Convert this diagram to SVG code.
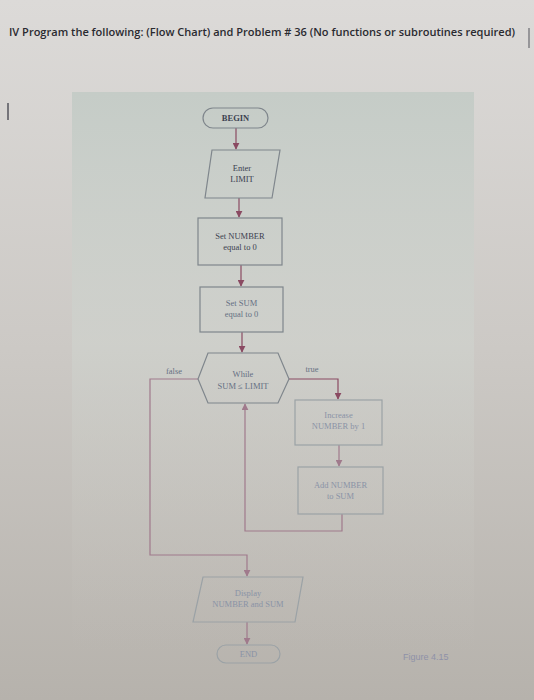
<svg xmlns="http://www.w3.org/2000/svg" width="534" height="700" viewBox="0 0 534 700">
<defs>
<linearGradient id="page" x1="0" y1="0" x2="0" y2="1">
<stop offset="0" stop-color="#dcdad8"/>
<stop offset="0.5" stop-color="#ccc9c5"/>
<stop offset="1" stop-color="#b6b2ac"/>
</linearGradient>
<linearGradient id="panel" x1="0" y1="0" x2="0" y2="1">
<stop offset="0" stop-color="#c5ccc7" stop-opacity="1"/>
<stop offset="0.45" stop-color="#cfd2cd" stop-opacity="0.7"/>
<stop offset="1" stop-color="#c4c1bb" stop-opacity="0"/>
</linearGradient>
<marker id="ah" viewBox="0 0 10 10" refX="9" refY="5" markerWidth="7" markerHeight="7" orient="auto" markerUnits="userSpaceOnUse">
<path d="M0,0 L10,5 L0,10 z" fill="#8a4a62"/>
</marker>
<marker id="ah2" viewBox="0 0 10 10" refX="9" refY="5" markerWidth="7" markerHeight="7" orient="auto" markerUnits="userSpaceOnUse">
<path d="M0,0 L10,5 L0,10 z" fill="#a07a8c"/>
</marker>
</defs>
<style>
.box{fill:none;stroke:#7f868c;stroke-width:1.2}
.boxl{fill:none;stroke:#9ba2a6;stroke-width:1.2}
.t{font-family:"Liberation Serif",serif;font-size:8.5px;text-anchor:middle}
.d{fill:#3c4150}
.m{fill:#667083}
.l{fill:#8a93a6}
.c{fill:none;stroke:#8a4a62;stroke-width:1.2}
.cl{fill:none;stroke:#a07a8c;stroke-width:1.2}
</style>
<rect x="0" y="0" width="534" height="700" fill="url(#page)"/>
<rect x="72" y="92" width="402" height="560" fill="url(#panel)"/>
<line x1="8" y1="103" x2="8" y2="120" stroke="#55555c" stroke-width="1.5"/>
<line x1="529" y1="28" x2="529" y2="48" stroke="#6a6a70" stroke-width="1.2"/>
<text x="9" y="36" font-family="Open Sans, sans-serif" font-size="10.6" font-weight="600" fill="#2a2a30" textLength="506" lengthAdjust="spacingAndGlyphs">IV Program the following: (Flow Chart) and Problem # 36 (No functions or subroutines required)</text>

<g id="connectors">
<path class="c" d="M236,128 V149" marker-end="url(#ah)"/>
<path class="c" d="M239,198 V217" marker-end="url(#ah)"/>
<path class="c" d="M241,265 V286" marker-end="url(#ah)"/>
<path class="c" d="M242,332 V352" marker-end="url(#ah)"/>
<path class="c" d="M289,379 H338 V399" marker-end="url(#ah)"/>
<path class="cl" d="M339,445 V466" marker-end="url(#ah2)"/>
<path class="cl" d="M342,514 V531 H245 V404" marker-end="url(#ah2)"/>
<path class="cl" d="M198,379 H150 V555 H247 V576" marker-end="url(#ah2)"/>
<path class="cl" d="M247,622 V644" marker-end="url(#ah2)"/>
<text x="174" y="374" class="t m" font-size="7.5">false</text>
<text x="312" y="372" class="t m" font-size="7.5">true</text>
</g>

<g id="begin">
<rect x="203" y="108" width="65" height="20" rx="10" class="box"/>
<text x="235.5" y="121" class="t d" font-weight="bold" font-size="8">BEGIN</text>
</g>
<g id="enter">
<polygon points="212,150 280,150 272,198 205,198" class="box"/>
<text x="242" y="171" class="t d">Enter</text>
<text x="242" y="182" class="t d">LIMIT</text>
</g>
<g id="setnumber">
<rect x="198" y="218" width="84" height="47" class="box"/>
<text x="240" y="239" class="t d">Set NUMBER</text>
<text x="240" y="250" class="t d">equal to 0</text>
</g>
<g id="setsum">
<rect x="200" y="287" width="83" height="45" class="box"/>
<text x="241.5" y="306" class="t m">Set SUM</text>
<text x="241.5" y="317" class="t m">equal to 0</text>
</g>
<g id="while">
<polygon points="208,353 278,353 289,379 278,403 208,403 198,379" class="box"/>
<text x="243" y="377" class="t m">While</text>
<text x="243" y="389" class="t m">SUM ≤ LIMIT</text>
</g>
<g id="increase">
<rect x="295" y="400" width="87" height="45" class="boxl"/>
<text x="338.5" y="418" class="t l">Increase</text>
<text x="338.5" y="429" class="t l">NUMBER by 1</text>
</g>
<g id="add">
<rect x="298" y="467" width="85" height="47" class="boxl"/>
<text x="340.5" y="488" class="t l">Add NUMBER</text>
<text x="340.5" y="499" class="t l">to SUM</text>
</g>
<g id="display">
<polygon points="203,577 303,577 295,622 193,622" class="boxl"/>
<text x="248" y="596" class="t l">Display</text>
<text x="248" y="607" class="t l">NUMBER and SUM</text>
</g>
<g id="end">
<rect x="217" y="645" width="63" height="18" rx="9" class="boxl"/>
<text x="248.5" y="657" class="t l">END</text>
</g>
<text x="403" y="660" font-family="Liberation Sans, sans-serif" font-size="9" fill="#8e91a8">Figure 4.15</text>
</svg>
